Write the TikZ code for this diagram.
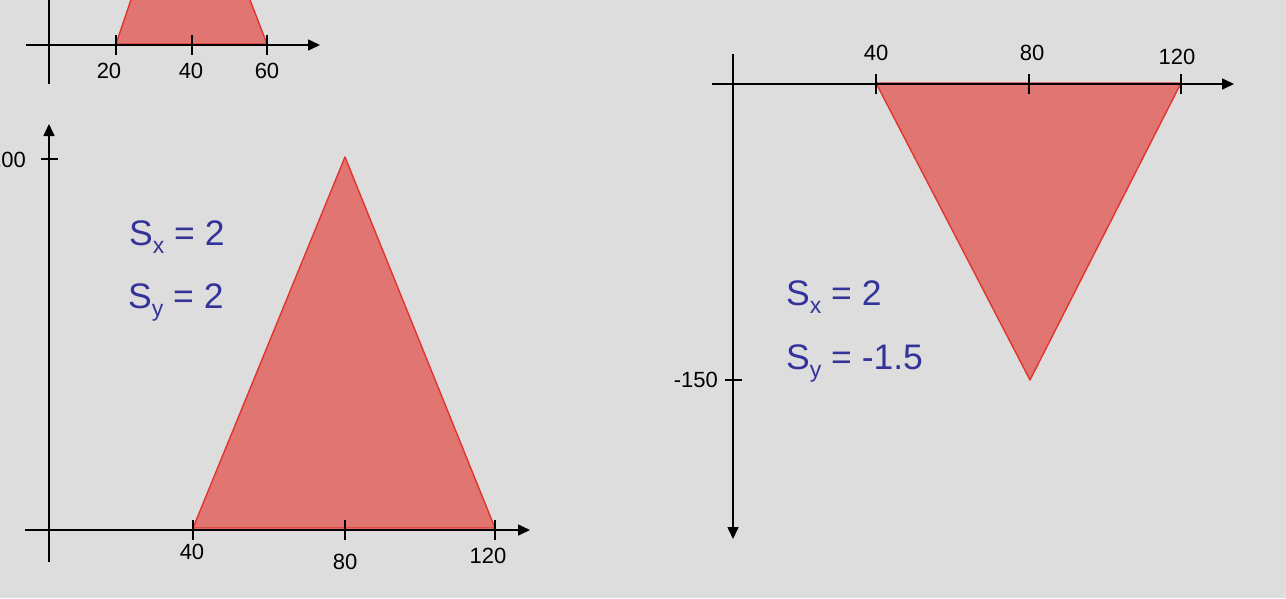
\documentclass[tikz,border=0pt]{standalone}
\usepackage{fontspec}
\setmainfont{Liberation Sans}
\usetikzlibrary{arrows.meta}
\definecolor{bg}{HTML}{DDDDDD}
\definecolor{shapefill}{HTML}{E07572}
\definecolor{shapeedge}{HTML}{E0352E}
\definecolor{scaleblue}{HTML}{333399}
\newcommand{\subtxt}[1]{\raisebox{-8pt}{\fontsize{23}{23}\selectfont #1}}
\begin{document}
\begin{tikzpicture}[x=1pt,y=-1pt,
  axis/.style={line width=1.6pt, black},
  arrowaxis/.style={axis,-{Triangle[length=12pt,width=11pt]}},
  tickmark/.style={line width=1.4pt, black},
  lbl/.style={font=\fontsize{22}{26}\selectfont, inner sep=0pt, text=black},
  scl/.style={font=\fontsize{35.5}{40}\selectfont, text=scaleblue, inner sep=0pt, anchor=base west},
  figshape/.style={fill=shapefill, draw=shapeedge, line width=1.4pt, line join=round}]
\fill[bg] (0,0) rectangle (1286,598);
\useasboundingbox (0,0) rectangle (1286,598);
\clip (0,0) rectangle (1286,598);

% ---------- top-left graph ----------
\coordinate (t1) at (116,44);
\coordinate (t2) at (134.3,-10);
\coordinate (t3) at (246.2,-10);
\coordinate (t4) at (267,44);
\draw[figshape] (t1) -- (t2) -- (t3) -- (t4) -- cycle;
\coordinate (tax0) at (26,45);
\coordinate (tax1) at (320,45);
\coordinate (tay0) at (49,84);
\coordinate (tay1) at (49,-5);
\draw[arrowaxis] (tax0) -- (tax1);
\draw[axis] (tay0) -- (tay1);
\foreach \n/\x in {a/116,b/192,c/267}{
  \coordinate (tt\n0) at (\x,35);
  \coordinate (tt\n1) at (\x,55);
  \draw[tickmark] (tt\n0) -- (tt\n1);
}
\node[lbl] (tl20) at (109,71) {20};
\node[lbl] (tl40) at (191,71) {40};
\node[lbl] (tl60) at (267,71) {60};

% ---------- bottom-left graph ----------
\coordinate (b1) at (193,528);
\coordinate (b2) at (345,157);
\coordinate (b3) at (495,528);
\draw[figshape] (b1) -- (b2) -- (b3) -- cycle;
\coordinate (bax0) at (25,530);
\coordinate (bax1) at (530,530);
\coordinate (bay0) at (49,562);
\coordinate (bay1) at (49,124);
\draw[arrowaxis] (bax0) -- (bax1);
\draw[arrowaxis] (bay0) -- (bay1);
\foreach \n/\x in {a/193,b/345,c/495}{
  \coordinate (bt\n0) at (\x,520);
  \coordinate (bt\n1) at (\x,540);
  \draw[tickmark] (bt\n0) -- (bt\n1);
}
\coordinate (bty0) at (41,159);
\coordinate (bty1) at (58,159);
\draw[tickmark] (bty0) -- (bty1);
\node[lbl, anchor=east] (bl100) at (26,160) {100};
\node[lbl] (bl40) at (192,552) {40};
\node[lbl] (bl80) at (345,562) {80};
\node[lbl] (bl120) at (488,556) {120};
\node[scl] (bsx) at (129,245) {S\subtxt{x} = 2};
\node[scl] (bsy) at (128,308) {S\subtxt{y} = 2};

% ---------- right graph ----------
\coordinate (r1) at (876,83);
\coordinate (r2) at (1181,83);
\coordinate (r3) at (1030,380);
\draw[figshape] (r1) -- (r2) -- (r3) -- cycle;
\coordinate (rax0) at (712,84);
\coordinate (rax1) at (1234,84);
\coordinate (ray0) at (733,54);
\coordinate (ray1) at (733,539);
\draw[arrowaxis] (rax0) -- (rax1);
\draw[arrowaxis] (ray0) -- (ray1);
\foreach \n/\x in {a/876,b/1029,c/1181}{
  \coordinate (rt\n0) at (\x,74);
  \coordinate (rt\n1) at (\x,94);
  \draw[tickmark] (rt\n0) -- (rt\n1);
}
\coordinate (rty0) at (725,380);
\coordinate (rty1) at (742,380);
\draw[tickmark] (rty0) -- (rty1);
\node[lbl] (rl40) at (876,53) {40};
\node[lbl] (rl80) at (1032,53) {80};
\node[lbl] (rl120) at (1177,57) {120};
\node[lbl, anchor=east] (rl150) at (718,380) {-150};
\node[scl] (rsx) at (786,305) {S\subtxt{x} = 2};
\node[scl] (rsy) at (786,369) {S\subtxt{y} = -1.5};
\end{tikzpicture}
\end{document}
